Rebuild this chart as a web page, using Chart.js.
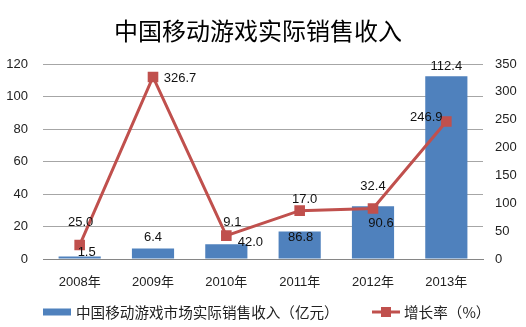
<!DOCTYPE html>
<html>
<head>
<meta charset="utf-8">
<script src="https://cdn.jsdelivr.net/npm/chart.js@4"></script>
<style>
  html, body { margin: 0; padding: 0; background: #fff; }
  #wrap { width: 526px; height: 327px; }
</style>
</head>
<body>
<div id="wrap"><canvas id="chart" width="526" height="327"></canvas></div>
<script>
const years = ['2008年', '2009年', '2010年', '2011年', '2012年', '2013年'];
const revenue = [1.5, 6.4, 9.1, 17.0, 32.4, 112.4];
const growth = [25.0, 326.7, 42.0, 86.8, 90.6, 246.9];
const leftTicks = [0, 20, 40, 60, 80, 100, 120];
const rightTicks = [0, 50, 100, 150, 200, 250, 300, 350];

const chartTitle = '中国移动游戏实际销售收入';
const barLabel = '中国移动游戏市场实际销售收入（亿元）';
const lineLabel = '增长率（%）';

const BLUE = '#4F81BD', RED = '#C0504D';
const FONT = '"Liberation Sans", "Noto Sans CJK SC", sans-serif';

// label nudges (px) from the mark, as placed in the original
const barNudge = [[7, -4], [0, -11], [6, -22], [5, -32], [0, -20], [0, -10]];
const lineNudge = [[1, -23], [27, 1], [24, 7], [1, 27], [8, 15], [-20, -4]];

const extras = {
  id: 'extras',
  afterDatasetsDraw(c) {
    const ctx = c.ctx;
    ctx.save();
    ctx.font = '13px ' + FONT;
    ctx.fillStyle = '#111';
    ctx.textAlign = 'center';
    ctx.textBaseline = 'middle';
    c.getDatasetMeta(0).data.forEach((el, i) => {
      ctx.fillText(revenue[i].toFixed(1), el.x + barNudge[i][0], el.y + barNudge[i][1]);
    });
    c.getDatasetMeta(1).data.forEach((el, i) => {
      ctx.fillText(growth[i].toFixed(1), el.x + lineNudge[i][0], el.y + lineNudge[i][1]);
    });
    ctx.restore();
  },
  afterDraw(c) {
    const ctx = c.ctx;
    ctx.save();
    ctx.fillStyle = '#000';
    ctx.textAlign = 'center';
    ctx.textBaseline = 'middle';
    ctx.font = '24px "Noto Sans CJK SC", sans-serif';
    ctx.fillText(chartTitle, 258, 31);

    // legend
    const ly = 312;
    ctx.font = '14.6px "Noto Sans CJK SC", sans-serif';
    ctx.textAlign = 'left';
    ctx.fillStyle = BLUE;
    ctx.fillRect(43, ly - 3.5, 28, 7);
    ctx.fillStyle = '#222';
    ctx.fillText(barLabel, 76, ly);
    ctx.strokeStyle = RED;
    ctx.lineWidth = 3;
    ctx.beginPath();
    ctx.moveTo(372, ly);
    ctx.lineTo(400, ly);
    ctx.stroke();
    ctx.fillStyle = RED;
    ctx.fillRect(381, ly - 5, 10, 10);
    ctx.fillStyle = '#222';
    ctx.fillText(lineLabel, 404, ly);
    ctx.restore();
  }
};

new Chart(document.getElementById('chart'), {
  data: {
    labels: years,
    datasets: [
      {
        type: 'bar',
        label: barLabel,
        data: revenue,
        backgroundColor: BLUE,
        yAxisID: 'y',
        categoryPercentage: 1,
        barPercentage: 0.575,
        order: 2
      },
      {
        type: 'line',
        label: lineLabel,
        data: growth,
        borderColor: RED,
        backgroundColor: RED,
        borderWidth: 3,
        pointStyle: 'rect',
        pointRadius: 7.5,
        pointBorderWidth: 0,
        yAxisID: 'y1',
        order: 1
      }
    ]
  },
  options: {
    responsive: false,
    animation: false,
    layout: { padding: { top: 64, bottom: 0, left: 0, right: 0 } },
    plugins: {
      legend: { display: false },
      title: { display: false },
      tooltip: { enabled: false }
    },
    scales: {
      x: {
        grid: { display: false, drawTicks: false },
        border: { color: '#868686', width: 1 },
        ticks: { font: { size: 13, family: FONT }, color: '#222', padding: 16 },
        afterFit(s) { s.height = 68; }
      },
      y: {
        position: 'left',
        min: 0,
        max: 120,
        afterBuildTicks(s) { s.ticks = leftTicks.map(v => ({ value: v })); },
        grid: { color: '#a6a6a6', drawTicks: false },
        border: { display: false },
        ticks: { font: { size: 13, family: FONT }, color: '#222', padding: 15 },
        afterFit(s) { s.width = 43; }
      },
      y1: {
        position: 'right',
        min: 0,
        max: 350,
        afterBuildTicks(s) { s.ticks = rightTicks.map(v => ({ value: v })); },
        grid: { display: false, drawTicks: false },
        border: { display: false },
        ticks: { font: { size: 13, family: FONT }, color: '#222', padding: 12 },
        afterFit(s) { s.width = 43; }
      }
    }
  },
  plugins: [extras]
});
</script>
</body>
</html>
